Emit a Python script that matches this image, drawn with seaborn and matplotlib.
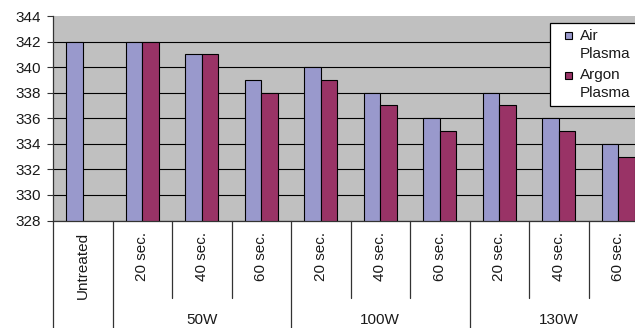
import numpy as np
import pandas as pd
import matplotlib
matplotlib.use("Agg")
import matplotlib.pyplot as plt
import matplotlib.transforms as mtransforms
from matplotlib.lines import Line2D
from matplotlib.patches import Rectangle
from matplotlib.legend_handler import HandlerPatch
import seaborn as sns

# Treatment durations (inner axis row) and plasma power (outer axis row)
durations = ["Untreated", "20 sec.", "40 sec.", "60 sec.",
             "20 sec.", "40 sec.", "60 sec.",
             "20 sec.", "40 sec.", "60 sec."]
powers = ["", "50W", "50W", "50W", "100W", "100W", "100W", "130W", "130W", "130W"]
group_labels = ["50W", "100W", "130W"]

air_plasma = [342, 342, 341, 339, 340, 338, 336, 338, 336, 334]
argon_plasma = [np.nan, 342, 341, 338, 339, 337, 335, 337, 335, 333]
series = ["Air Plasma", "Argon Plasma"]
colors = ["#9999CC", "#993366"]

y_ticks = list(range(328, 345, 2))

slots = [f"{p} {d}".strip() for p, d in zip(powers, durations)]
df = pd.DataFrame({
    "slot": slots * 2,
    "series": [series[0]] * len(slots) + [series[1]] * len(slots),
    "value": air_plasma + argon_plasma,
})

sns.set_style("white")
plt.rcParams["font.family"] = ["Liberation Sans", "DejaVu Sans"]
FS = 11
text_color = "#1a1a1a"

W, H = 635, 328
fig = plt.figure(figsize=(W / 100, H / 100), dpi=100)
ax_left, ax_right, ax_top, ax_bottom = 53, 648, 16, 220.5
ax = fig.add_axes([ax_left / W, 1 - ax_bottom / H,
                   (ax_right - ax_left) / W, (ax_bottom - ax_top) / H])
ax.set_facecolor("#C0C0C0")

sns.barplot(data=df, x="slot", y="value", hue="series", order=slots,
            hue_order=series, palette=colors, width=0.56, saturation=1,
            edgecolor="black", linewidth=0.8, legend=False, ax=ax)

ax.set_xlim(-0.5, len(slots) - 0.5)
ax.set_ylim(y_ticks[0], y_ticks[-1])
ax.set_yticks(y_ticks)
ax.set_yticklabels([str(t) for t in y_ticks], fontsize=FS, color=text_color)
ax.tick_params(axis="y", length=4, width=0.8, color="#333333", pad=5, left=True)
ax.set_xlabel("")
ax.set_ylabel("")

# black horizontal grid, none on the top edge
ax.yaxis.grid(True, color="black", linewidth=0.8)
ax.set_axisbelow(True)
for tick in ax.yaxis.get_major_ticks():
    if tick.get_loc() == y_ticks[-1]:
        tick.gridline.set_visible(False)

for side in ("top", "right"):
    ax.spines[side].set_visible(False)
for side in ("left", "bottom"):
    ax.spines[side].set_color("#333333")
    ax.spines[side].set_linewidth(0.9)

# inner row: durations, rotated
ax.set_xticks(range(len(slots)))
ax.set_xticklabels(durations, rotation=90, fontsize=FS, color=text_color,
                   va="top", ha="center")
ax.tick_params(axis="x", length=0, pad=8)

# separator lines below the axis
axes_h_px = ax_bottom - ax_top
trans = mtransforms.blended_transform_factory(ax.transData, ax.transAxes)
inner_depth = -(298 - ax_bottom) / axes_h_px
outer_depth = -(328 - ax_bottom) / axes_h_px
for i in range(len(slots) + 1):
    left = powers[i - 1] if i > 0 else None
    right = powers[i] if i < len(slots) else None
    depth = inner_depth if (left == right and left) else outer_depth
    ax.add_line(Line2D([i - 0.5, i - 0.5], [0, depth], transform=trans,
                       color="#333333", linewidth=0.9, clip_on=False))

# outer row: power groups centred under their durations
for g in group_labels:
    idx = [i for i, p in enumerate(powers) if p == g]
    ax.annotate(g, xy=(np.mean(idx), 0), xycoords=trans,
                xytext=(0, -(319.5 - ax_bottom) * 0.72), textcoords="offset points",
                ha="center", va="center", fontsize=FS, color=text_color,
                annotation_clip=False)

LEG_LINESPACING = 1.33
LINE_STEP_PT = 18 * 0.72


# legend: small square beside the first line of each two-line label
def square_marker(legend, orig_handle, xdescent, ydescent, width, height, fontsize):
    s = 5.0
    first_line = 0.5 * LINE_STEP_PT
    return Rectangle((-xdescent + width - s, first_line + 1.5), s, s)


handles = [Rectangle((0, 0), 1, 1, facecolor=c, edgecolor="black", linewidth=0.8)
           for c in colors]
labels = [s.replace(" ", "\n") for s in series]
leg = ax.legend(handles, labels, loc="upper left",
                bbox_to_anchor=(550 / W, 1 - 23 / H), bbox_transform=fig.transFigure,
                borderaxespad=0, borderpad=0.4, handlelength=1.05, handletextpad=0.5,
                labelspacing=0.5, fontsize=FS, frameon=True, fancybox=False,
                framealpha=1, facecolor="white", edgecolor="black",
                handler_map={Rectangle: HandlerPatch(patch_func=square_marker)})
leg.get_frame().set_linewidth(0.9)
for t in leg.get_texts():
    t.set_linespacing(LEG_LINESPACING)
    t.set_color(text_color)

fig.savefig("out.png", dpi=100, facecolor="white")
